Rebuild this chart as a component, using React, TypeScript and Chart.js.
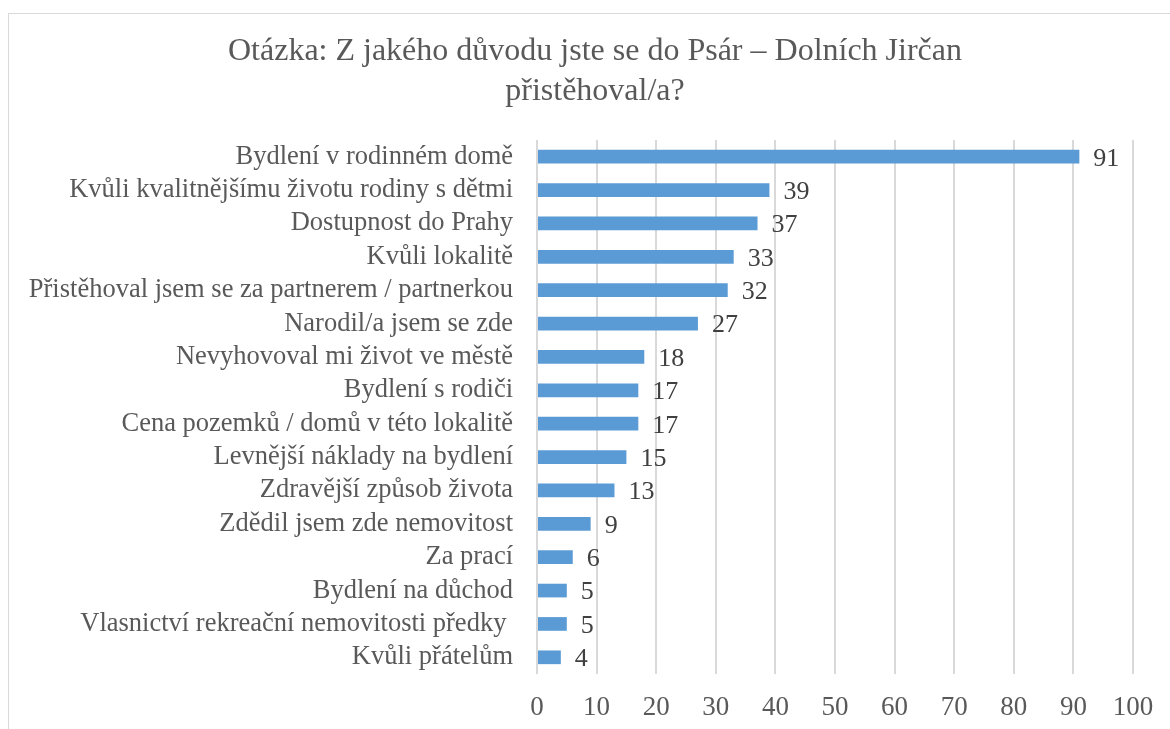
import React, { useEffect, useRef } from "react";
import { Chart, registerables } from "chart.js";

Chart.register(...registerables);

const categories = [
  "Bydlení v rodinném domě",
  "Kvůli kvalitnějšímu životu rodiny s dětmi",
  "Dostupnost do Prahy",
  "Kvůli lokalitě",
  "Přistěhoval jsem se za partnerem / partnerkou",
  "Narodil/a jsem se zde",
  "Nevyhovoval mi život ve městě",
  "Bydlení s rodiči",
  "Cena pozemků / domů v této lokalitě",
  "Levnější náklady na bydlení",
  "Zdravější způsob života",
  "Zdědil jsem zde nemovitost",
  "Za prací",
  "Bydlení na důchod",
  "Vlasnictví rekreační nemovitosti předky ",
  "Kvůli přátelům",
];

const values = [91, 39, 37, 33, 32, 27, 18, 17, 17, 15, 13, 9, 6, 5, 5, 4];

const titleLines = [
  "Otázka: Z jakého důvodu jste se do Psár – Dolních Jirčan",
  "přistěhoval/a?",
];

const xMin = 0;
const xMax = 100;
const xStep = 10;

const FONT = "'Liberation Serif', 'Times New Roman', serif";

const titlePlugin = {
  id: "centeredTitle",
  afterDraw(chart: any) {
    const ctx = chart.ctx;
    ctx.save();
    ctx.fillStyle = "#595959";
    ctx.font = `32px ${FONT}`;
    ctx.textAlign = "center";
    ctx.textBaseline = "middle";
    titleLines.forEach((line, i) => {
      ctx.fillText(line, chart.width / 2, 38 + i * 40);
    });
    ctx.restore();
  },
};

const dataLabelPlugin = {
  id: "dataLabels",
  afterDatasetsDraw(chart: any) {
    const ctx = chart.ctx;
    const meta = chart.getDatasetMeta(0);
    ctx.save();
    ctx.fillStyle = "#404040";
    ctx.font = `26px ${FONT}`;
    ctx.textAlign = "left";
    ctx.textBaseline = "middle";
    meta.data.forEach((bar: any, i: number) => {
      ctx.fillText(String(values[i]), bar.x + 14, bar.y + 2);
    });
    ctx.restore();
  },
};

export default function App() {
  const canvasRef = useRef<HTMLCanvasElement | null>(null);

  useEffect(() => {
    if (!canvasRef.current) return;
    const chart = new Chart(canvasRef.current, {
      type: "bar",
      data: {
        labels: categories,
        datasets: [
          {
            data: values,
            backgroundColor: "#5B9BD5",
            borderWidth: 0,
            categoryPercentage: 1,
            barPercentage: 0.41,
          },
        ],
      },
      options: {
        indexAxis: "y",
        animation: false,
        responsive: false,
        maintainAspectRatio: false,
        devicePixelRatio: 1,
        layout: { padding: { left: 0, right: 48, top: 126, bottom: 0 } },
        plugins: {
          legend: { display: false },
          tooltip: { enabled: false },
          title: { display: false },
        },
        scales: {
          x: {
            min: xMin,
            max: xMax,
            border: { display: false },
            grid: { color: "#d9d9d9", lineWidth: 2, drawTicks: false },
            ticks: {
              stepSize: xStep,
              color: "#595959",
              font: { family: FONT, size: 27 },
              padding: 18,
            },
            afterFit(scale: any) {
              scale.height = 60;
            },
          },
          y: {
            border: { display: false },
            grid: { display: false, drawTicks: false },
            ticks: {
              color: "#595959",
              font: { family: FONT, size: 26.5 },
              padding: 24,
              autoSkip: false,
            },
            afterFit(scale: any) {
              scale.width = 528;
            },
          },
        },
      },
      plugins: [dataLabelPlugin, titlePlugin],
    });
    return () => chart.destroy();
  }, []);

  return (
    <div
      style={{
        position: "fixed",
        left: 0,
        top: 0,
        width: 1170,
        height: 729,
        overflow: "hidden",
        background: "#fff",
      }}
    >
      <div
        style={{
          position: "absolute",
          left: 8,
          top: 13,
          width: 1180,
          height: 760,
          borderLeft: "1px solid #d9d9d9",
          borderTop: "1px solid #d9d9d9",
        }}
      >
        <canvas
          ref={canvasRef}
          width={1172}
          height={720}
          style={{ display: "block", width: 1172, height: 720 }}
        />
      </div>
    </div>
  );
}
